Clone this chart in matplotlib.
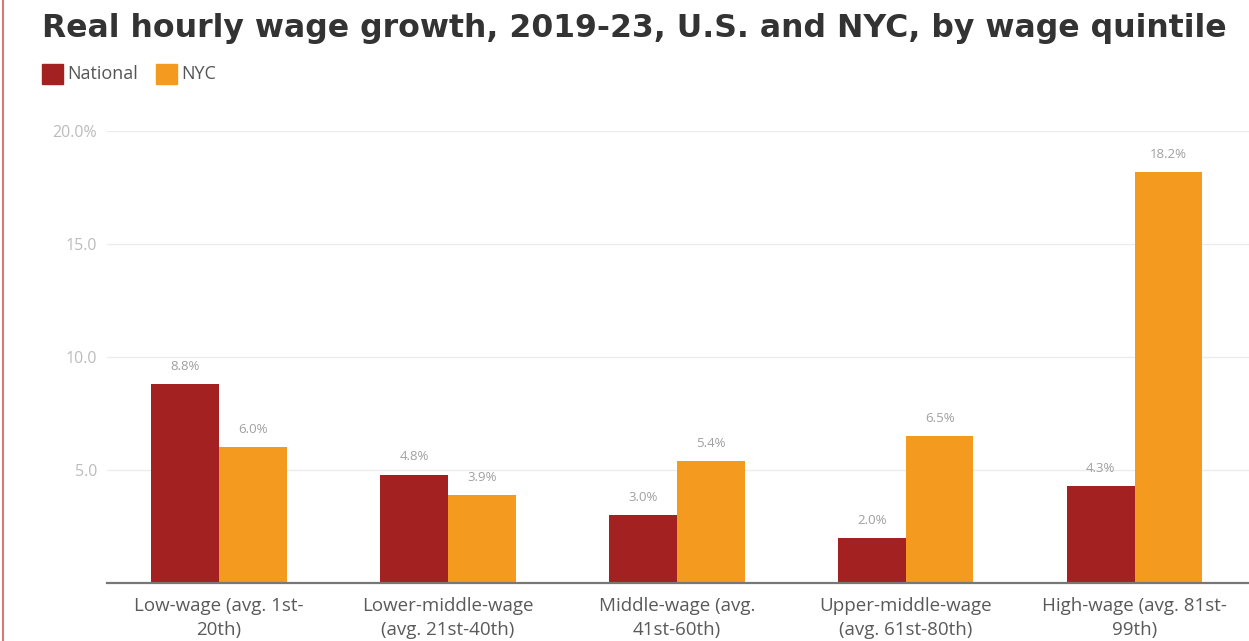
import matplotlib
matplotlib.use("Agg")
import matplotlib.pyplot as plt
from matplotlib.lines import Line2D
from matplotlib.patches import Rectangle
import numpy as np

categories = [
    "Low-wage (avg. 1st-\n20th)",
    "Lower-middle-wage\n(avg. 21st-40th)",
    "Middle-wage (avg.\n41st-60th)",
    "Upper-middle-wage\n(avg. 61st-80th)",
    "High-wage (avg. 81st-\n99th)",
]
national = [8.8, 4.8, 3.0, 2.0, 4.3]
nyc = [6.0, 3.9, 5.4, 6.5, 18.2]
series_names = ["National", "NYC"]
ytick_values = [5, 10, 15, 20]
ytick_labels = ["5.0", "10.0", "15.0", "20.0%"]

RED = "#A32121"
ORANGE = "#F39A1F"

plt.rcParams["font.family"] = ["Open Sans", "DejaVu Sans"]

fig = plt.figure(figsize=(12.49, 6.41), dpi=100)
ax = fig.add_axes([0.0857, 0.0905, 0.9143, 0.7051])

x = np.arange(len(categories))
w = 0.296
b1 = ax.bar(x - w / 2, national, width=w, color=RED, zorder=3)
b2 = ax.bar(x + w / 2, nyc, width=w, color=ORANGE, zorder=3)

for bars, vals in ((b1, national), (b2, nyc)):
    for rect, v in zip(bars, vals):
        ax.annotate(f"{v:.1f}%", (rect.get_x() + rect.get_width() / 2, v),
                    xytext=(0, 8), textcoords="offset points",
                    ha="center", va="bottom", fontsize=9.5, color="#a0a0a0")

ax.set_xlim(-0.49, 4.5)
ax.set_ylim(0, 20)
ax.set_yticks(ytick_values)
ax.set_yticklabels(ytick_labels)
ax.grid(axis="y", color="#ececec", linewidth=1, zorder=0)
ax.set_xticks(x)
ax.set_xticklabels(categories, fontsize=13.5, color="#5a5a5a", linespacing=1.45)
ax.tick_params(axis="x", length=0, pad=10)
ax.tick_params(axis="y", length=0, pad=7, labelsize=11.5, labelcolor="#bcbcbc")
for s in ("top", "right", "left"):
    ax.spines[s].set_visible(False)
ax.spines["bottom"].set_color("#777777")
ax.spines["bottom"].set_linewidth(1.6)
ax.spines["bottom"].set_zorder(4)

fig.text(42 / 1249, 1 - 28 / 641, "Real hourly wage growth, 2019-23, U.S. and NYC, by wage quintile",
         fontsize=22.7, fontweight="bold", color="#333333", ha="left", va="center",
         family="DejaVu Sans")

# legend
for (lx, tx), name, col in zip(((42, 67), (156, 181)), series_names, (RED, ORANGE)):
    fig.add_artist(Rectangle((lx / 1249, 1 - 84 / 641), 21 / 1249, 20 / 641,
                             transform=fig.transFigure, color=col))
    fig.text(tx / 1249, 1 - 74 / 641, name, fontsize=13, color="#555555",
             ha="left", va="center")

# page border on the left
fig.add_artist(Line2D([3 / 1249, 3 / 1249], [0, 1], transform=fig.transFigure,
                      color="#d9777a", linewidth=1.5))

fig.savefig("out.png", dpi=100)
